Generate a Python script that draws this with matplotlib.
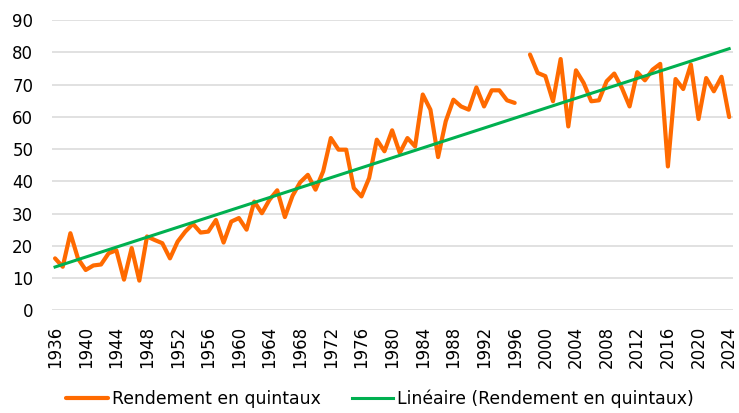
import numpy as np
import matplotlib.pyplot as plt

plt.rcParams['font.family'] = ['DejaVu Sans']

years = np.arange(1936, 2025)
# rendement annuel (quintaux/ha), 1997 manquant
rendement = [16.1, 13.5, 23.9, 16.0, 12.5, 13.9, 14.2, 17.7, 18.6, 9.5,
             19.3, 9.2, 22.9, 21.8, 20.8, 16.1, 21.3, 24.4, 26.8, 24.1,
             24.4, 28.0, 21.0, 27.5, 28.6, 25.0, 33.7, 30.1, 34.3, 37.2,
             28.9, 35.5, 39.7, 42.0, 37.4, 43.1, 53.4, 49.8, 49.8, 37.9,
             35.3, 41.0, 52.9, 49.3, 55.8, 48.8, 53.4, 50.8, 66.9, 62.2,
             47.5, 58.6, 65.3, 63.2, 62.2, 69.1, 63.2, 68.2, 68.2, 65.1,
             64.3, np.nan, 79.3, 73.6, 72.6, 64.8, 77.9, 57.0, 74.4, 70.5,
             64.8, 65.1, 71.0, 73.4, 68.9, 63.2, 73.8, 71.3, 74.6, 76.4,
             44.6, 71.7, 68.6, 76.2, 59.3, 72.0, 67.9, 72.4, 59.9]
rendement = np.array(rendement, dtype=float)

label_serie = 'Rendement en quintaux'
label_trend = 'Linéaire (Rendement en quintaux)'

# trendline like Excel: least squares on the available points
ok = ~np.isnan(rendement)
slope, intercept = np.polyfit(years[ok], rendement[ok], 1)
trend = slope * years + intercept

fig = plt.figure(figsize=(7.39, 4.13), dpi=100)
ax = fig.add_axes([52 / 739, 1 - 310.3 / 413, 681 / 739, 290.3 / 413])

ax.plot(years, rendement, color='#FF6A00', lw=3.0, solid_joinstyle='round',
        solid_capstyle='round', label=label_serie, zorder=3)
ax.plot(years, trend, color='#00B050', lw=2.2, label=label_trend, zorder=4)

ax.set_xlim(1935.6, 2024.5)
ax.set_ylim(0, 90)
ax.set_yticks(np.arange(0, 91, 10))
ax.set_xticks(np.arange(1936, 2025, 4))
ax.tick_params(axis='x', labelrotation=90, labelsize=12, length=0, pad=11)
ax.tick_params(axis='y', labelsize=12, length=0, pad=13.5)
ax.grid(axis='y', color='#D9D9D9', lw=1.1)
ax.set_axisbelow(True)
for s in ax.spines.values():
    s.set_visible(False)

fig.legend(loc='center', bbox_to_anchor=(380 / 739, 1 - 399 / 413), ncol=2,
           frameon=False, fontsize=12.4, handlelength=2.4, handletextpad=0.24,
           columnspacing=1.8)

fig.savefig('out.png', dpi=100)
